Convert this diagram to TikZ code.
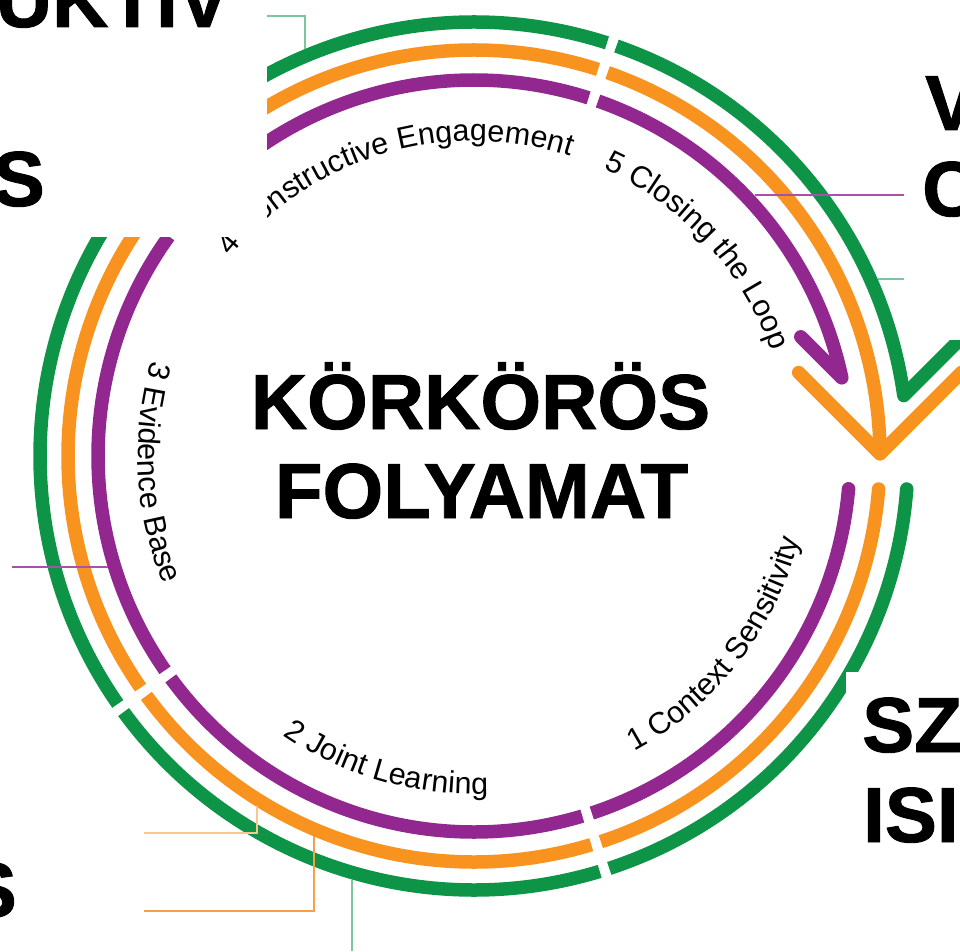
\documentclass[tikz,border=0pt]{standalone}
\usepackage{fontspec}
\setmainfont{Liberation Sans}
\newfontfamily\heavyfont{Liberation Sans}[UprightFeatures={FakeBold=1.2},BoldFeatures={FakeBold=1.2}]
\usetikzlibrary{decorations.text,calc}
\definecolor{cpur}{HTML}{92278F}
\definecolor{cora}{HTML}{F7931E}
\definecolor{cgre}{HTML}{0E9447}
\definecolor{lgre}{HTML}{7CC69B}
\definecolor{lora}{HTML}{FBC58F}
\definecolor{mora}{HTML}{F6A04D}
\newcommand{\labfont}{\fontsize{30.5pt}{30.5pt}\selectfont}
\newcommand{\bigfont}{\heavyfont\fontsize{78pt}{78pt}\selectfont\bfseries}
% #1 colour, #2 radius, #3 gap half-angle, #4 arrow tip angle, #5 start angle of lower arc
\newcommand{\myrings}[5]{%
  \draw[ring, draw=#1] ({71.5-#3}:#2) arc[start angle={71.5-#3}, end angle=#4, radius=#2];
  \draw[ring, draw=#1] (#5:#2) arc[start angle=#5, end angle={-72.5+#3}, radius=#2];
  \fill[#1] (#5:#2) circle[radius=6.75];
  \draw[ring, draw=#1] ({-72.5-#3}:#2) arc[start angle={-72.5-#3}, end angle={-144.5+#3}, radius=#2];
  \draw[ring, draw=#1] ({-144.5-#3}:#2) arc[start angle={-144.5-#3}, end angle={-216.5+#3}, radius=#2];
  \draw[ring, draw=#1] ({-216.5-#3}:#2) arc[start angle={-216.5-#3}, end angle={-288.5+#3}, radius=#2];
}
\begin{document}
\begin{tikzpicture}[x=1pt,y=1pt,
  ring/.style={line width=13.5pt, line cap=butt},
  wing/.style={line width=13.5pt, line cap=round, line join=round},
  leader/.style={line width=1.4pt},
  bigtext/.style={inner sep=0pt, font=\bigfont},
  cover/.style={fill=white, draw=none},
  arclabel/.style={decorate, decoration={text along path, text align=center, text={|\labfont|#1}}}]
\useasboundingbox (-474,-495) rectangle (486,456);

% rings
\myrings{cgre}{434}{0.66}{8}{-4.36}
\myrings{cora}{406}{0.71}{0.3}{-4.66}
\myrings{cpur}{376}{0.76}{12}{-5.0}

% arrowheads
\draw[wing, draw=cpur] (12:376) -- ++(135:58);
\draw[wing, draw=cgre] (8:434) -- ++(45:85);
\draw[wing, draw=cora] ($(0.3:406)+(135:115)$) -- (0.3:406) -- ++(45:115);

% leader lines
\draw[leader, draw=lgre] (-207,440) -- (-169,440) -- (-169,407);
\draw[leader, draw=cpur!80] (281,261) -- (430,261);
\draw[leader, draw=lgre] (404,177) -- (430,177);
\draw[leader, draw=cpur!80] (-462,-111) -- (-366,-111);
\draw[leader, draw=lora] (-330,-377) -- (-217,-377) -- (-217,-350);
\draw[leader, draw=mora] (-330,-455) -- (-160,-455) -- (-160,-380);
\draw[leader, draw=lgre] (-122,-424) -- (-122,-495);

% arc labels
\path[arclabel={4 Constructive Engagement}] (146.5:315) arc[start angle=146.5, end angle=66.5, radius=315];
\path[arclabel={5 Closing the Loop}] (72.6:315) arc[start angle=72.6, end angle=12.6, radius=315];
\path[arclabel={3 Evidence Base}] (153:336) arc[start angle=153, end angle=213, radius=336];
\path[arclabel={2 Joint Learning}] (224:338) arc[start angle=224, end angle=284, radius=338];
\path[arclabel={1 Context Sensitivity}] (292:336) arc[start angle=292, end angle=352, radius=336];

% covering boxes
\fill[cover] (-474,456) rectangle (-207,219);
\fill[cover] (430,456) rectangle (486,116);
\fill[cover] (372,-216) rectangle (486,-495);
\fill[cover] (-474,-292) rectangle (-330,-495);

% big texts
\node[bigtext, anchor=base] (t1) at (6.5,27) {KÖRKÖRÖS};
\node[bigtext, anchor=base] (t2) at (7.5,-62) {FOLYAMAT};
\node[bigtext, anchor=base east] (s1) at (-244,429) {UKTIV};
\node[bigtext, anchor=base east] (s2) at (-429,250) {S};
\node[bigtext, anchor=base west] (s3) at (451,326) {V};
\node[bigtext, anchor=base west] (s4) at (448,240) {C};
\node[bigtext, anchor=base west] (s5) at (388,-296) {SZ};
\node[bigtext, anchor=base west] (s6) at (389,-386) {ISI};
\node[bigtext, anchor=base east] (s7) at (-457,-461) {S};
\end{tikzpicture}
\end{document}
